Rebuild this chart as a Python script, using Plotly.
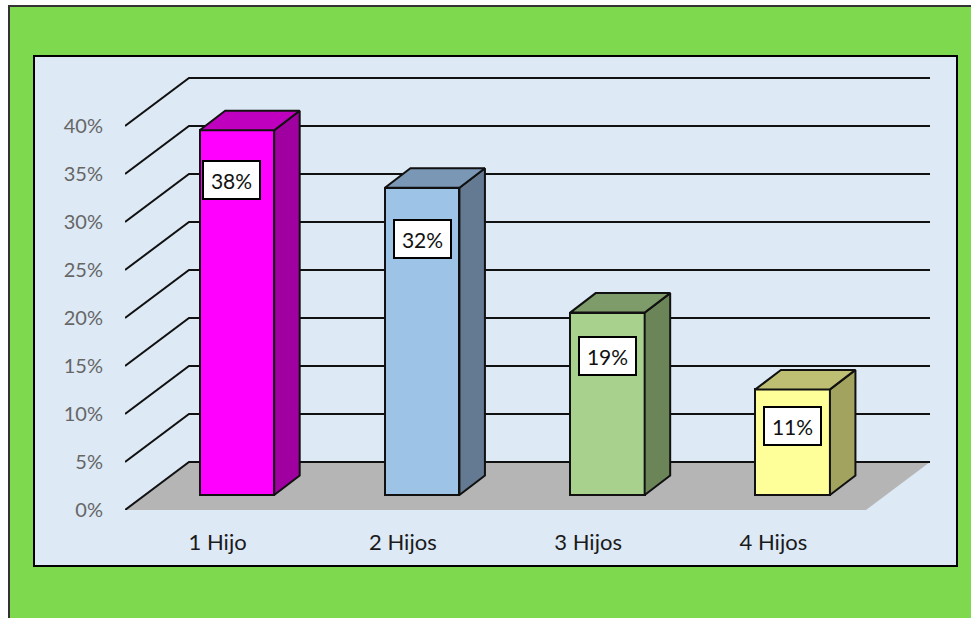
"""Hijos por familia: 3D-look column chart drawn on flat axes."""

import plotly.graph_objects as go

categories = ["1 Hijo", "2 Hijos", "3 Hijos", "4 Hijos"]
values = [38, 32, 19, 11]
value_labels = ["38%", "32%", "19%", "11%"]
label_heights = [34.4, 28.2, 16.0, 8.8]
label_shifts = [-0.027, 0.0, 0.0, 0.0]
y_ticks = [0, 5, 10, 15, 20, 25, 30, 35, 40]

front_colors = ["#FF00FF", "#9DC3E6", "#A9D18E", "#FFFF99"]
side_colors = ["#A0009F", "#647A92", "#6B8559", "#A3A360"]
top_colors = ["#C000BF", "#7A97B5", "#7E9B6A", "#BFBF73"]

W, H = 971, 618
LEFT, RIGHT, TOP, BOTTOM = 125, 930, 60, 510
PX_PER_CAT = 185.25
PX_PER_UNIT = 9.6

X_MIN = -0.5
X_MAX = X_MIN + (RIGHT - LEFT) / PX_PER_CAT
Y_MAX = (BOTTOM - TOP) / PX_PER_UNIT

# depth of the fake 3D floor, and of the columns standing on it
WALL_DX = 64 / PX_PER_CAT
WALL_DY = 48 / PX_PER_UNIT
BAR_DX = 25.5 / PX_PER_CAT
BAR_DY = 19.5 / PX_PER_UNIT
BAR_BASE = 15 / PX_PER_UNIT
BAR_SHIFT = 19.3 / PX_PER_CAT
BAR_WIDTH = 74.5 / PX_PER_CAT


def paper_x(px):
    return (px - LEFT) / (RIGHT - LEFT)


def paper_y(px):
    return (BOTTOM - px) / (BOTTOM - TOP)


fig = go.Figure()

shapes = [
    dict(type="rect", xref="paper", yref="paper", layer="below",
         x0=paper_x(9), x1=paper_x(990), y0=paper_y(6), y1=paper_y(640),
         fillcolor="#7ED94F", line=dict(color="#333333", width=2)),
    dict(type="rect", xref="paper", yref="paper", layer="below",
         x0=paper_x(34), x1=paper_x(957), y0=paper_y(56), y1=paper_y(566),
         fillcolor="#DDE9F5", line=dict(color="#000000", width=2)),
    dict(type="path", layer="below", line=dict(width=0), fillcolor="#B5B5B5",
         path=f"M {X_MIN} 0 L {X_MIN + WALL_DX} {WALL_DY} L {X_MAX} {WALL_DY} "
              f"L {X_MAX - WALL_DX} 0 Z"),
]
for tick in y_ticks:
    shapes.append(
        dict(type="path", layer="below", line=dict(color="#111111", width=2),
             path=f"M {X_MIN} {tick} L {X_MIN + WALL_DX} {tick + WALL_DY} "
                  f"L {X_MAX} {tick + WALL_DY}")
    )

for i, value in enumerate(values):
    x0 = i + BAR_SHIFT - BAR_WIDTH / 2
    x1 = i + BAR_SHIFT + BAR_WIDTH / 2
    top = BAR_BASE + value
    fig.add_trace(
        go.Bar(
            x=[i + BAR_SHIFT],
            y=[value],
            base=BAR_BASE,
            width=BAR_WIDTH,
            marker=dict(color=front_colors[i], line=dict(color="#111111", width=2)),
            showlegend=False,
        )
    )
    # right side face
    fig.add_trace(
        go.Scatter(
            x=[x1, x1 + BAR_DX, x1 + BAR_DX, x1, x1],
            y=[BAR_BASE, BAR_BASE + BAR_DY, top + BAR_DY, top, BAR_BASE],
            mode="lines",
            fill="toself",
            fillcolor=side_colors[i],
            line=dict(color="#111111", width=2),
            showlegend=False,
        )
    )
    # top face
    fig.add_trace(
        go.Scatter(
            x=[x0, x0 + BAR_DX, x1 + BAR_DX, x1, x0],
            y=[top, top + BAR_DY, top + BAR_DY, top, top],
            mode="lines",
            fill="toself",
            fillcolor=top_colors[i],
            line=dict(color="#111111", width=2),
            showlegend=False,
        )
    )

annotations = [
    dict(
        x=i + BAR_SHIFT + label_shifts[i],
        y=label_heights[i],
        text=value_labels[i],
        showarrow=False,
        width=55,
        height=36,
        borderpad=0,
        bgcolor="#FFFFFF",
        bordercolor="#000000",
        borderwidth=2,
        font=dict(family="Lato", size=21, color="#111111"),
    )
    for i in range(len(values))
]

fig.update_layout(
    width=W,
    height=H,
    margin=dict(l=LEFT, r=W - RIGHT, t=TOP, b=H - BOTTOM, pad=0),
    paper_bgcolor="#FFFFFF",
    plot_bgcolor="rgba(0,0,0,0)",
    shapes=shapes,
    annotations=annotations,
    bargap=0,
    showlegend=False,
    xaxis=dict(
        range=[X_MIN, X_MAX],
        tickvals=list(range(len(categories))),
        ticktext=categories,
        tickfont=dict(family="Lato", size=22, color="#1A1A1A"),
        ticks="outside",
        ticklen=13,
        tickcolor="rgba(0,0,0,0)",
        showgrid=False,
        zeroline=False,
        showline=False,
    ),
    yaxis=dict(
        range=[0, Y_MAX],
        tickvals=y_ticks,
        ticktext=[f"{t}%" for t in y_ticks],
        tickfont=dict(family="Lato", size=20, color="#666666"),
        ticks="outside",
        ticklen=17,
        tickcolor="rgba(0,0,0,0)",
        showgrid=False,
        zeroline=False,
        showline=False,
    ),
)

# the page's default body margin would push the chart 8px off
fig.write_html(
    "out.html",
    config={"displayModeBar": False},
    post_script="document.body.style.margin = '0';",
)
